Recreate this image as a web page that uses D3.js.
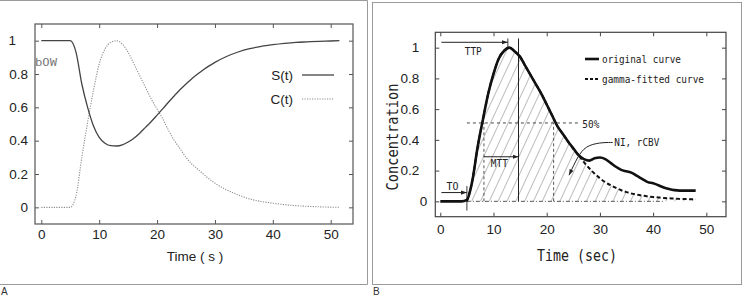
<!DOCTYPE html>
<html><head><meta charset="utf-8">
<script src="https://cdn.jsdelivr.net/npm/d3@7"></script>
<style>
html,body{margin:0;padding:0;background:#fff;}
svg{display:block;}
</style></head>
<body>
<svg id="chart" width="744" height="296"></svg>
<script>
// ---------- Panel A data ----------
const timeA = [0,1,2,3,4,5,6,7,8,9,10,11,12,13,14,15,16,17,18,19,20,21,22,23,24,25,26,27,28,29,30,32,34,36,38,40,42,44,46,48,50,51.5];
const sA = [1,1,1,1,1,1,0.93,0.74,0.60,0.49,0.42,0.385,0.37,0.368,0.375,0.392,0.415,0.445,0.48,0.515,0.553,0.592,0.632,0.67,0.707,0.74,0.772,0.80,0.826,0.849,0.87,0.905,0.932,0.952,0.966,0.976,0.984,0.99,0.993,0.996,0.998,1.0];
const cA = [0,0,0,0,0,0,0.07,0.30,0.51,0.70,0.86,0.95,0.99,1.0,0.98,0.93,0.86,0.79,0.72,0.65,0.59,0.53,0.46,0.40,0.35,0.30,0.26,0.23,0.20,0.17,0.145,0.105,0.075,0.05,0.035,0.025,0.016,0.01,0.006,0.003,0.001,0];
const xTicksA = [0,10,20,30,40,50];
const yTicksA = [0,0.2,0.4,0.6,0.8,1];
const legendA = ["S(t)","C(t)"];

// ---------- Panel B data ----------
const timeB = [0,1,2,3,4,5,6,7,8,9,10,11,12,13,14,15,16,17,18,19,20,21,22,23,24,25,26,27,28,29,30,31,32,33,34,35,36,37,38,39,40,41,42,43,44,45,46,47,48];
const original = [0,0,0,0,0,0.01,0.13,0.35,0.53,0.70,0.83,0.93,0.98,1.0,0.975,0.94,0.88,0.82,0.76,0.70,0.63,0.56,0.49,0.44,0.39,0.345,0.30,0.275,0.265,0.28,0.285,0.275,0.25,0.225,0.205,0.195,0.185,0.165,0.145,0.125,0.118,0.105,0.09,0.08,0.073,0.07,0.07,0.07,0.07];
const gammaFit = [null,null,null,null,null,0,0.13,0.35,0.53,0.70,0.83,0.93,0.98,1.0,0.975,0.94,0.88,0.82,0.76,0.70,0.63,0.56,0.49,0.44,0.39,0.34,0.30,0.255,0.215,0.18,0.15,0.125,0.105,0.088,0.072,0.06,0.05,0.043,0.037,0.032,0.028,0.025,0.022,0.02,0.018,0.016,0.015,0.014,0.013];
const xTicksB = [0,10,20,30,40,50];
const yTicksB = [0,0.2,0.4,0.6,0.8,1];
const legendB = ["original curve","gamma-fitted curve"];
// annotation values (data space)
const t0 = 5, ttp = 12.7, mttEnd = 14.7, half1 = 8.2, half2 = 21.3;

const svg = d3.select("#chart");
const defs = svg.append("defs");
defs.append("marker").attr("id","arr").attr("viewBox","0 0 10 10").attr("refX",10).attr("refY",5)
  .attr("markerWidth",6).attr("markerHeight",6).attr("orient","auto")
  .append("path").attr("d","M0,1.5 L10,5 L0,8.5 Z").attr("fill","#222");
const pat = defs.append("pattern").attr("id","hatch").attr("patternUnits","userSpaceOnUse")
  .attr("width",8).attr("height",8).attr("patternTransform","rotate(25)");
pat.append("line").attr("x1",0).attr("y1",0).attr("x2",0).attr("y2",8)
  .attr("stroke","#7a7a7a").attr("stroke-width",1);

// panel borders
svg.append("path").attr("d","M0,0.5 H367.5 V284.5 H0").attr("fill","none").attr("stroke","#9a9a9a");
svg.append("rect").attr("x",372.5).attr("y",2.5).attr("width",369).attr("height",282)
  .attr("fill","none").attr("stroke","#9a9a9a");
svg.append("text").attr("x",1).attr("y",295).text("A").attr("font-family","Liberation Sans, Arial, sans-serif").attr("font-size",10).attr("fill","#333");
svg.append("text").attr("x",373).attr("y",295).text("B").attr("font-family","Liberation Sans, Arial, sans-serif").attr("font-size",10).attr("fill","#333");

function frame(g, x, y, xt, yt, col, ypad, xpad, fs){
  const [x0,x1] = x.range(), [y0,y1] = y.range();
  g.append("g").attr("transform",`translate(0,${y0})`)
    .call(d3.axisBottom(x).tickValues(xt).tickSize(-4).tickPadding(xpad).tickFormat(d3.format("d")))
    .call(s=>s.select(".domain").remove());
  g.append("g").attr("transform",`translate(0,${y1})`)
    .call(d3.axisTop(x).tickValues(xt).tickSize(-4).tickFormat(""))
    .call(s=>s.select(".domain").remove());
  g.append("g").attr("class","yl").attr("transform",`translate(${x0},0)`)
    .call(d3.axisLeft(y).tickValues(yt).tickSize(-4).tickPadding(ypad).tickFormat(d=>d===0?"0":d===1?"1":d3.format(".1f")(d)))
    .call(s=>s.select(".domain").remove());
  g.append("g").attr("transform",`translate(${x1},0)`)
    .call(d3.axisRight(y).tickValues(yt).tickSize(-4).tickFormat(""))
    .call(s=>s.select(".domain").remove());
  g.append("rect").attr("x",x0).attr("y",y1).attr("width",x1-x0).attr("height",y0-y1)
    .attr("fill","none").attr("stroke",col).attr("stroke-width",1.2);
  g.selectAll(".tick line").attr("stroke",col);
  g.selectAll(".tick text").attr("font-family","Liberation Sans, Arial, sans-serif").attr("font-size",fs).attr("fill","#222");
}

// ================= Panel A =================
const gA = svg.append("g");
const xA = d3.scaleLinear().domain([-1.09,53.85]).range([35,353]);
const yA = d3.scaleLinear().domain([-0.1,1.1]).range([224,24]);
frame(gA, xA, yA, xTicksA, yTicksA, "#555", 7, 5, 13.5);
gA.selectAll(".yl .tick").filter(d=>d===1).select("text").attr("x",-19);

const lineA = vals => d3.line().x((d,i)=>xA(timeA[i])).y(d=>yA(d)).curve(d3.curveMonotoneX)(vals);
gA.append("path").attr("d",lineA(cA)).attr("fill","none").attr("stroke","#8c8c8c").attr("stroke-width",1.1).attr("stroke-dasharray","1.2,1.3");
gA.append("path").attr("d",lineA(sA)).attr("fill","none").attr("stroke","#444").attr("stroke-width",1.3);

gA.append("text").attr("x",35).attr("y",66).text("bOW").attr("font-family","DejaVu Sans Mono, monospace")
  .attr("font-size",11).attr("fill","#777").attr("textLength",22).attr("lengthAdjust","spacingAndGlyphs");

legendA.forEach((name,i)=>{
  const yy = 75 + i*24;
  gA.append("text").attr("x",293).attr("y",yy+5).attr("text-anchor","end").text(name)
    .attr("font-family","Liberation Sans, Arial, sans-serif").attr("font-size",13.5).attr("fill","#222");
  gA.append("line").attr("x1",302).attr("x2",334).attr("y1",yy).attr("y2",yy)
    .attr("stroke", i===0?"#444":"#8c8c8c").attr("stroke-width", i===0?1.3:1.1)
    .attr("stroke-dasharray", i===0?null:"1.2,1.3");
});
gA.append("text").attr("x",195).attr("y",261).attr("text-anchor","middle").text("Time ( s )")
  .attr("font-family","Liberation Sans, Arial, sans-serif").attr("font-size",13.5).attr("fill","#222");

// ================= Panel B =================
const gB = svg.append("g");
const xB = d3.scaleLinear().domain([-0.94,53.7]).range([435.3,726]);
const yB = d3.scaleLinear().domain([-0.1,1.1]).range([216.7,32.3]);
frame(gB, xB, yB, xTicksB, yTicksB, "#444", 16, 8, 13.5);
gB.selectAll(".yl .tick").filter(d=>d===0).select("text").attr("x",-8);

// hatched area under gamma curve
const gpts = timeB.map((t,i)=>[t,gammaFit[i]]).filter(d=>d[1]!==null);
const areaB = d3.area().x(d=>xB(d[0])).y0(yB(0)).y1(d=>yB(d[1])).curve(d3.curveMonotoneX);
gB.append("path").attr("d",areaB(gpts)).attr("fill","url(#hatch)");

const mono = "DejaVu Sans Mono, monospace";
// 50% line & verticals
gB.append("line").attr("x1",xB(t0)).attr("x2",xB(26.3)).attr("y1",yB(0.51)).attr("y2",yB(0.51))
  .attr("stroke","#333").attr("stroke-width",0.9).attr("stroke-dasharray","3,3");
[half1,half2].forEach(t=>gB.append("line").attr("x1",xB(t)).attr("x2",xB(t)).attr("y1",yB(0)).attr("y2",yB(0.51))
  .attr("stroke","#444").attr("stroke-width",0.9).attr("stroke-dasharray","3,2.5"));
// baseline dashed
gB.append("line").attr("x1",xB(t0)).attr("x2",xB(42)).attr("y1",yB(0)).attr("y2",yB(0))
  .attr("stroke","#444").attr("stroke-width",0.9).attr("stroke-dasharray","4,2,1,2");
// MTT vertical
gB.append("line").attr("x1",xB(mttEnd)).attr("x2",xB(mttEnd)).attr("y1",yB(0)).attr("y2",yB(1.06))
  .attr("stroke","#222").attr("stroke-width",1);
// T0 vertical
gB.append("line").attr("x1",xB(t0)).attr("x2",xB(t0)).attr("y1",yB(0.1)).attr("y2",yB(-0.06))
  .attr("stroke","#222").attr("stroke-width",0.9);
// TTP small vertical
gB.append("line").attr("x1",xB(ttp)).attr("x2",xB(ttp)).attr("y1",yB(1.06)).attr("y2",yB(0.99))
  .attr("stroke","#222").attr("stroke-width",0.9);

const lineB = d3.line().defined(d=>d[1]!==null).x(d=>xB(d[0])).y(d=>yB(d[1])).curve(d3.curveMonotoneX);
gB.append("path").attr("d",lineB(gpts)).attr("fill","none").attr("stroke","#111").attr("stroke-width",2).attr("stroke-dasharray","4,2.5");
gB.append("path").attr("d",lineB(timeB.map((t,i)=>[t,original[i]]))).attr("fill","none").attr("stroke","#111").attr("stroke-width",2.6);

// arrows
function arrow(xa,xb,v){
  gB.append("line").attr("x1",xB(xa)).attr("x2",xB(xb)).attr("y1",yB(v)).attr("y2",yB(v))
    .attr("stroke","#222").attr("stroke-width",1).attr("marker-end","url(#arr)");
}
arrow(0.2, ttp, 1.035);
arrow(half1, mttEnd, 0.29);
arrow(0.2, t0, 0.057);
function label(t,v,s,len){
  gB.append("text").attr("x",xB(t)).attr("y",yB(v)).attr("text-anchor","middle").attr("dy","0.35em").text(s)
    .attr("font-family",mono).attr("font-size",10.5).attr("fill","#222").attr("textLength",len).attr("lengthAdjust","spacingAndGlyphs");
}
label(6.2, 0.975, "TTP", 17);
label(11.1, 0.245, "MTT", 17);
label(2.3, 0.095, "TO", 12);
gB.append("text").attr("x",xB(26.7)).attr("y",yB(0.5)).attr("dy","0.35em").text("50%")
  .attr("font-family",mono).attr("font-size",10.5).attr("fill","#222").attr("textLength",17).attr("lengthAdjust","spacingAndGlyphs");
gB.append("text").attr("x",xB(32.7)).attr("y",yB(0.385)).attr("dy","0.35em").text("NI, rCBV")
  .attr("font-family",mono).attr("font-size",10.5).attr("fill","#222").attr("textLength",45).attr("lengthAdjust","spacingAndGlyphs");
// curved NI arrow
const ca = [[32.4,0.383],[30.0,0.383],[27.3,0.36],[25.8,0.29],[24.2,0.17]];
gB.append("path").attr("d",d3.line().x(d=>xB(d[0])).y(d=>yB(d[1])).curve(d3.curveBasis)(ca))
  .attr("fill","none").attr("stroke","#222").attr("stroke-width",1).attr("marker-end","url(#arr)");

// legend B
legendB.forEach((name,i)=>{
  const yy = 59 + i*20;
  gB.append("line").attr("x1",585).attr("x2",599).attr("y1",yy).attr("y2",yy).attr("stroke","#111")
    .attr("stroke-width", i===0?2.6:2).attr("stroke-dasharray", i===0?null:"3,2");
  gB.append("text").attr("x",602).attr("y",yy).attr("dy","0.35em").text(name)
    .attr("font-family",mono).attr("font-size",11).attr("fill","#222")
    .attr("textLength", i===0?79:102).attr("lengthAdjust","spacingAndGlyphs");
});
// axis titles B
gB.append("text").attr("x",577).attr("y",255).attr("dy","0.35em").attr("text-anchor","middle").text("Time (sec)")
  .attr("font-family",mono).attr("font-size",16).attr("fill","#222").attr("textLength",80).attr("lengthAdjust","spacingAndGlyphs");
gB.append("text").attr("transform","translate(393,137) rotate(-90)").attr("dy","0.35em").attr("text-anchor","middle").text("Concentration")
  .attr("font-family",mono).attr("font-size",15).attr("fill","#222").attr("textLength",107).attr("lengthAdjust","spacingAndGlyphs");
</script>
</body></html>
